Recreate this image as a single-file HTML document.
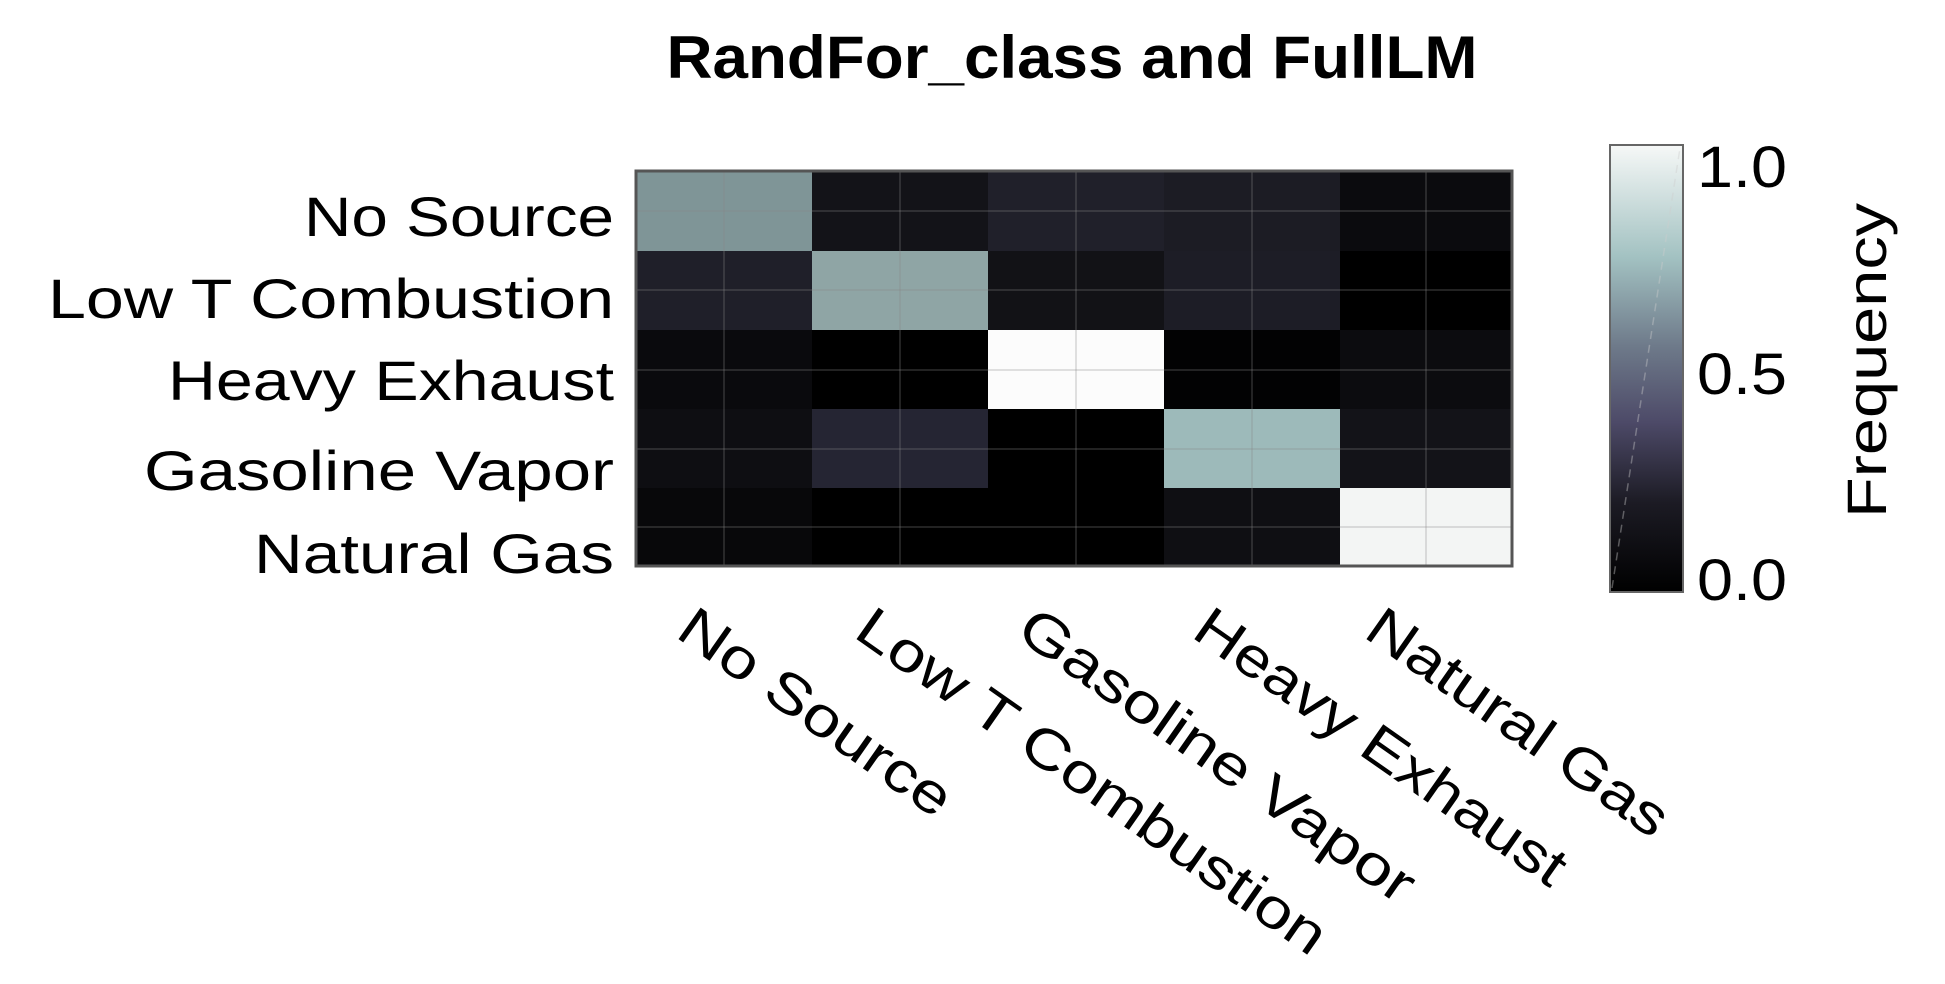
<!DOCTYPE html>
<html><head><meta charset="utf-8"><style>
html,body{margin:0;padding:0;background:#fff;}
svg{display:block;}
text{font-family:"Liberation Sans",sans-serif;fill:#000;}
</style></head><body>
<svg width="1945" height="984" viewBox="0 0 1945 984" xmlns="http://www.w3.org/2000/svg">
<defs>
<linearGradient id="cb" x1="0" y1="1" x2="0" y2="0">
<stop offset="0" stop-color="#000000"/>
<stop offset="0.2" stop-color="#1c1b24"/>
<stop offset="0.38" stop-color="#4d4a68"/>
<stop offset="0.55" stop-color="#6e7a8a"/>
<stop offset="0.75" stop-color="#a3c2c2"/>
<stop offset="1" stop-color="#f6f8f7"/>
</linearGradient>
</defs>
<text x="1072" y="78" font-size="60" font-weight="bold" text-anchor="middle" textLength="811" lengthAdjust="spacingAndGlyphs">RandFor_class and FullLM</text>

<g>
<rect x="636" y="171" width="176" height="80" fill="#7f9597"/>
<rect x="812" y="171" width="176" height="80" fill="#131318"/>
<rect x="988" y="171" width="176" height="80" fill="#20202a"/>
<rect x="1164" y="171" width="176" height="80" fill="#1c1c24"/>
<rect x="1340" y="171" width="172" height="80" fill="#0b0b0e"/>
<rect x="636" y="251" width="176" height="79" fill="#1f1f29"/>
<rect x="812" y="251" width="176" height="79" fill="#8fa5a5"/>
<rect x="988" y="251" width="176" height="79" fill="#121216"/>
<rect x="1164" y="251" width="176" height="79" fill="#1d1d26"/>
<rect x="1340" y="251" width="172" height="79" fill="#000000"/>
<rect x="636" y="330" width="176" height="79" fill="#0a0a0d"/>
<rect x="812" y="330" width="176" height="79" fill="#000000"/>
<rect x="988" y="330" width="176" height="79" fill="#fcfcfc"/>
<rect x="1164" y="330" width="176" height="79" fill="#020203"/>
<rect x="1340" y="330" width="172" height="79" fill="#0c0c0f"/>
<rect x="636" y="409" width="176" height="79" fill="#0e0e12"/>
<rect x="812" y="409" width="176" height="79" fill="#252533"/>
<rect x="988" y="409" width="176" height="79" fill="#000000"/>
<rect x="1164" y="409" width="176" height="79" fill="#9dbaba"/>
<rect x="1340" y="409" width="172" height="79" fill="#131318"/>
<rect x="636" y="488" width="176" height="78" fill="#08080a"/>
<rect x="812" y="488" width="176" height="78" fill="#000000"/>
<rect x="988" y="488" width="176" height="78" fill="#000000"/>
<rect x="1164" y="488" width="176" height="78" fill="#0f0f13"/>
<rect x="1340" y="488" width="172" height="78" fill="#f3f5f4"/>
<g stroke="#888" stroke-opacity="0.25" stroke-width="2">
<line x1="724" y1="171" x2="724" y2="566"/><line x1="900" y1="171" x2="900" y2="566"/><line x1="1076" y1="171" x2="1076" y2="566"/><line x1="1252" y1="171" x2="1252" y2="566"/><line x1="1426" y1="171" x2="1426" y2="566"/>
<line x1="636" y1="211" x2="1512" y2="211"/><line x1="636" y1="290" x2="1512" y2="290"/><line x1="636" y1="370" x2="1512" y2="370"/><line x1="636" y1="449" x2="1512" y2="449"/><line x1="636" y1="527" x2="1512" y2="527"/>
</g>
<rect x="636" y="171" width="876" height="395" fill="none" stroke="#555" stroke-width="3"/>
</g>

<g font-size="56" text-anchor="end">
<text x="614" y="236" textLength="310" lengthAdjust="spacingAndGlyphs">No Source</text>
<text x="614" y="318" textLength="566" lengthAdjust="spacingAndGlyphs">Low T Combustion</text>
<text x="614" y="400" textLength="446" lengthAdjust="spacingAndGlyphs">Heavy Exhaust</text>
<text x="614" y="490" textLength="470" lengthAdjust="spacingAndGlyphs">Gasoline Vapor</text>
<text x="614" y="573" textLength="360" lengthAdjust="spacingAndGlyphs">Natural Gas</text>
</g>

<g font-size="56">
<text transform="translate(674,636) rotate(35)" textLength="320" lengthAdjust="spacingAndGlyphs">No Source</text>
<text transform="translate(852,636) rotate(35)" textLength="560" lengthAdjust="spacingAndGlyphs">Low T Combustion</text>
<text transform="translate(1014,636) rotate(35)" textLength="470" lengthAdjust="spacingAndGlyphs">Gasoline Vapor</text>
<text transform="translate(1190,636) rotate(35)" textLength="440" lengthAdjust="spacingAndGlyphs">Heavy Exhaust</text>
<text transform="translate(1362,636) rotate(35)" textLength="355" lengthAdjust="spacingAndGlyphs">Natural Gas</text>
</g>

<rect x="1610" y="145" width="73" height="447" fill="url(#cb)" stroke="#666" stroke-width="2"/>
<line x1="1612" y1="588" x2="1680" y2="148" stroke="#ccc" stroke-opacity="0.4" stroke-width="1.5" stroke-dasharray="8 6"/>
<g font-size="58">
<text x="1697" y="187" textLength="90" lengthAdjust="spacingAndGlyphs">1.0</text>
<text x="1697" y="394" textLength="90" lengthAdjust="spacingAndGlyphs">0.5</text>
<text x="1697" y="600" textLength="90" lengthAdjust="spacingAndGlyphs">0.0</text>
</g>
<text transform="translate(1886,518) rotate(-90)" font-size="56" textLength="315" lengthAdjust="spacingAndGlyphs">Frequency</text>
</svg>
</body></html>
